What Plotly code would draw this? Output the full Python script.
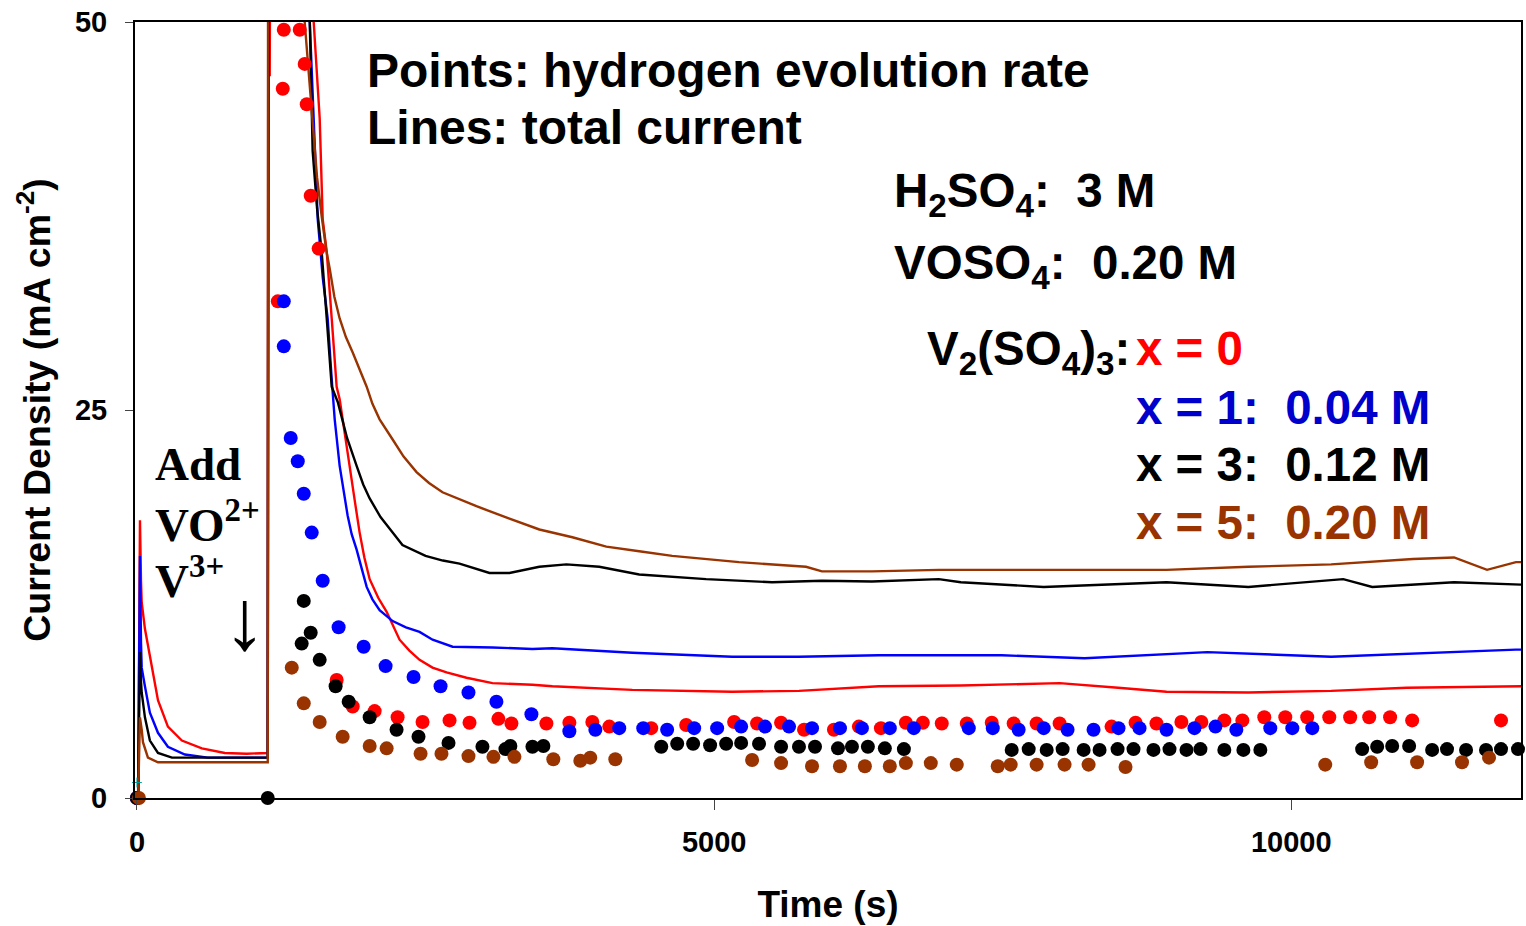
import plotly.graph_objects as go

# ---------------- data ----------------
# Lines: total current density (mA cm^-2) vs time (s)
red_line_t = [10, 26, 35, 41, 69, 127, 182, 268, 389, 562, 761, 950, 1133, 1138, 1150, 1156, 1531,
              1583, 1609, 1644, 1687, 1730, 1756, 1800, 1843, 1890, 1929, 1970, 2016, 2090, 2163,
              2275, 2360, 2448, 2560, 2682, 2855, 3080, 3426, 3599, 4291, 5156, 5735, 6427, 7137,
              7993, 8500, 8919, 9628, 10346, 11000, 11946, 11990]
red_line_v = [0, 17.9, 14.0, 12.6, 10.9, 8.5, 6.3, 4.6, 3.7, 3.2, 2.9, 2.85, 2.9, 60, 46.5, 60, 50,
              43.8, 37.3, 35.2, 30.9, 26.5, 25.7, 23.4, 21.4, 19.0, 17.1, 15.5, 14.1, 12.9, 12.0,
              10.2, 9.5, 8.9, 8.4, 8.1, 7.75, 7.4, 7.3, 7.2, 6.97, 6.85, 6.9, 7.2, 7.25,
              7.4, 7.1, 6.85, 6.8, 6.9, 7.1, 7.2, 7.2]

blue_line_t = [10, 26, 35, 41, 69, 112, 182, 268, 415, 614, 1133, 1140, 1497, 1566, 1610, 1652, 1687,
               1713, 1756, 1790, 1825, 1860, 1903, 1950, 1990, 2040, 2102, 2215, 2330, 2448, 2561,
               2734, 3080, 3426, 3599, 4291, 5156, 5735, 6427, 7491, 8209, 9273, 10346, 11946, 11990]
blue_line_v = [0, 15.6, 10.0, 8.4, 7.2, 5.5, 4.2, 3.3, 2.8, 2.6, 2.6, 60, 50, 37.3, 33.5, 30.9, 27.0,
               24.4, 21.4, 19.7, 18.2, 17.0, 16.0, 14.7, 13.6, 12.8, 12.1, 11.4, 11.0, 10.7, 10.2,
               9.75, 9.7, 9.6, 9.65, 9.36, 9.1, 9.1, 9.2, 9.2, 9.0, 9.4, 9.1, 9.56, 9.56]

black_line_t = [10, 26, 35, 41, 69, 112, 182, 303, 1133, 1140, 1497, 1522, 1560, 1600, 1644, 1687,
                1740, 1820, 1903, 1960, 2016, 2110, 2215, 2300, 2500, 2650, 2794, 3054, 3227, 3486,
                3720, 4005, 4351, 4931, 5502, 5934, 6367, 6946, 7137, 7855, 8919, 9628, 10450,
                10701, 11410, 11946, 11990]
black_line_v = [0, 9.4, 7.5, 6.8, 5.2, 3.7, 2.9, 2.6, 2.6, 60, 50, 41.7, 38.0, 35.2, 30.9, 26.5,
                25.5, 23.2, 21.4, 20.2, 19.3, 18.1, 17.1, 16.3, 15.6, 15.3, 15.1, 14.5, 14.5, 14.9,
                15.05, 14.9, 14.4, 14.1, 13.9, 14.0, 13.95, 14.1, 13.9, 13.6, 13.9, 13.6, 14.1,
                13.6, 13.9, 13.75, 13.75]

brown_line_t = [10, 26, 41, 52, 95, 182, 1133, 1136, 1453, 1560, 1600, 1640, 1670, 1710, 1756, 1810,
                1869, 1930, 1990, 2040, 2102, 2215, 2310, 2422, 2530, 2647, 2941, 3227, 3486, 3772,
                4066, 4351, 4637, 5216, 5796, 5934, 6367, 6946, 7855, 8919, 9628, 10346, 11055,
                11410, 11696, 11946, 11990]
brown_line_v = [0, 5.2, 4.4, 3.6, 2.6, 2.3, 2.3, 60, 50, 40.0, 37.5, 35.3, 34.1, 32.3, 30.9, 29.7,
                28.7, 27.6, 26.5, 25.4, 24.4, 23.1, 22.0, 21.0, 20.3, 19.7, 18.8, 18.0, 17.3, 16.8,
                16.2, 15.9, 15.6, 15.2, 14.9, 14.6, 14.6, 14.7, 14.7, 14.7, 14.9, 15.05, 15.4,
                15.5, 14.7, 15.2, 15.2]

# Points: hydrogen evolution rate (mA cm^-2) vs time (s)
red_pts_t = [0, 1272, 1410, 1453, 1263, 1471, 1505, 1574, 1220, 1730, 1869, 2059, 2258, 2474, 2708,
             2881, 3131, 3244, 3547, 3746, 3945, 4092, 4455, 4758, 5173, 5372, 5580, 5779, 6038,
             6254, 6445, 6661, 6808, 6972, 7189, 7405, 7595, 7794, 7993, 8443, 8651, 8832, 9048,
             9221, 9420, 9576, 9766, 9948, 10138, 10329, 10510, 10675, 10856, 11047, 11817]
red_pts_v = [0, 49.5, 49.5, 47.3, 45.7, 44.7, 38.8, 35.4, 32.0, 7.6, 5.9, 5.6, 5.2, 4.9, 5.0,
             4.85, 5.1, 4.8, 4.8, 4.85, 4.9, 4.6, 4.5, 4.7, 4.9, 4.8, 4.85, 4.4, 4.4,
             4.6, 4.5, 4.85, 4.85, 4.8, 4.8, 4.85, 4.8, 4.8, 4.8, 4.6, 4.85, 4.8, 4.9,
             4.9, 5.0, 5.0, 5.2, 5.2, 5.2, 5.2, 5.2, 5.2, 5.2, 5.0, 5.0]

blue_pts_t = [0, 1272, 1272, 1332, 1393, 1445, 1514, 1609, 1747, 1964, 2154, 2396, 2630, 2872, 3114,
              3417, 3746, 3971, 4178, 4386, 4593, 4827, 5026, 5234, 5441, 5649, 5848, 6090, 6280,
              6522, 6730, 7206, 7414, 7638, 7855, 8062, 8287, 8503, 8685, 8919, 9161, 9343, 9524,
              9818, 10009, 10182]
blue_pts_v = [0, 32.0, 29.1, 23.2, 21.7, 19.6, 17.1, 14.0, 11.0, 9.75, 8.5, 7.8, 7.2, 6.8, 6.2,
              5.4, 4.3, 4.4, 4.5, 4.5, 4.4, 4.5, 4.5, 4.6, 4.6, 4.6, 4.5, 4.5, 4.5,
              4.5, 4.5, 4.5, 4.5, 4.4, 4.5, 4.4, 4.4, 4.5, 4.5, 4.4, 4.5, 4.6, 4.4,
              4.5, 4.5, 4.5]

black_pts_t = [0, 1133, 1445, 1505, 1427, 1583, 1721, 1834, 2016, 2249, 2439, 2699, 2993, 3192, 3235,
               3426, 3521, 4542, 4680, 4818, 4965, 5104, 5234, 5389, 5580, 5735, 5874, 6073, 6194,
               6332, 6479, 6644, 7578, 7725, 7881, 8019, 8201, 8339, 8495, 8633, 8806, 8945, 9092,
               9213, 9420, 9585, 9732, 10614, 10744, 10874, 11021, 11220, 11349, 11514, 11687,
               11817, 11964]
black_pts_v = [0, 0, 12.7, 10.65, 9.95, 8.9, 7.2, 6.2, 5.2, 4.4, 3.95, 3.55, 3.3, 3.15, 3.35,
               3.3, 3.35, 3.3, 3.5, 3.5, 3.4, 3.5, 3.55, 3.5, 3.3, 3.3, 3.3, 3.2, 3.3,
               3.3, 3.2, 3.15, 3.1, 3.15, 3.1, 3.15, 3.1, 3.1, 3.15, 3.15, 3.1, 3.15, 3.1,
               3.15, 3.1, 3.1, 3.1, 3.15, 3.3, 3.35, 3.35, 3.1, 3.15, 3.1, 3.1,
               3.15, 3.15]

brown_pts_t = [17, 1341, 1445, 1583, 1782, 2016, 2163, 2457, 2638, 2872, 3088, 3270, 3607, 3841,
               3927, 4144, 5329, 5580, 5848, 6090, 6306, 6522, 6661, 6877, 7102, 7457, 7569, 7794,
               8036, 8244, 8564, 10294, 10692, 11090, 11479, 11713]
brown_pts_v = [0, 8.4, 6.1, 4.9, 3.95, 3.35, 3.2, 2.85, 2.85, 2.7, 2.65, 2.65, 2.5, 2.4,
               2.6, 2.5, 2.45, 2.25, 2.05, 2.05, 2.05, 2.05, 2.25, 2.25, 2.15, 2.05, 2.15, 2.15,
               2.15, 2.15, 2.0, 2.15, 2.3, 2.3, 2.3, 2.6]

# small stray marker near origin
cyan_t = [0]
cyan_v = [1.0]

x_tick_vals = [0, 5000, 10000]
y_tick_vals = [0, 25, 50]

# ---------------- styling ----------------
RED = "#FF0000"
BLUE = "#0000FF"
BLACK = "#000000"
BROWN = "#993300"

W, H = 1526, 926
L, R, T, B = 135, 1523, 22, 798


def px(x):
    return (x - L) / (R - L)


def py(y):
    return (B - y) / (B - T)


fig = go.Figure()

for t, v, c in [(red_line_t, red_line_v, RED), (blue_line_t, blue_line_v, BLUE),
                (black_line_t, black_line_v, BLACK), (brown_line_t, brown_line_v, BROWN)]:
    fig.add_trace(go.Scatter(x=t, y=v, mode="lines", line=dict(color=c, width=2.4),
                             showlegend=False, hoverinfo="skip"))

for t, v, c in [(red_pts_t, red_pts_v, RED), (blue_pts_t, blue_pts_v, BLUE),
                (black_pts_t, black_pts_v, BLACK), (brown_pts_t, brown_pts_v, BROWN)]:
    fig.add_trace(go.Scatter(x=t, y=v, mode="markers",
                             marker=dict(color=c, size=14, line=dict(width=0)),
                             cliponaxis=False, showlegend=False, hoverinfo="skip"))

fig.add_trace(go.Scatter(x=cyan_t, y=cyan_v, mode="markers",
                         marker=dict(color="#00A0A0", size=7, symbol="cross-thin",
                                     line=dict(color="#00A0A0", width=1)),
                         cliponaxis=False, showlegend=False, hoverinfo="skip"))

SANS = "Liberation Sans, Arial, sans-serif"
SERIF = "Liberation Serif, Times New Roman, serif"

ann = []


def text(x, y, s, color="black", size=47.5, font=SANS, xanchor="left"):
    ann.append(dict(x=px(x), y=py(y), xref="paper", yref="paper", text=s, showarrow=False,
                    xanchor=xanchor, yanchor="middle",
                    font=dict(family=font, size=size, color=color, weight="bold")))


text(365, 70, "Points: hydrogen evolution rate", size=48)
text(365, 128, "Lines: total current", size=48)
text(893, 194, "H<sub>2</sub>SO<sub>4</sub>:  3 M")
text(893, 266, "VOSO<sub>4</sub>:  0.20 M")
text(1133, 352, "V<sub>2</sub>(SO<sub>4</sub>)<sub>3</sub>:", xanchor="right")
text(1135, 349, "x = 0", color=RED)
text(1135, 407, "x = 1:  0.04 M", color="#0000CC")
text(1135, 464, "x = 3:  0.12 M", color=BLACK)
text(1135, 522, "x = 5:  0.20 M", color=BROWN)

text(153, 464, "Add", font=SERIF, size=47)
text(153, 521, "VO<sup>2+</sup>", font=SERIF, size=47)
text(153, 577, "V<sup>3+</sup>", font=SERIF, size=47)
text(245, 620, "↓", font=SERIF, size=86, xanchor="center")

fig.update_layout(
    width=W, height=H,
    margin=dict(l=L, r=W - R, t=T, b=H - B),
    paper_bgcolor="white", plot_bgcolor="white",
    annotations=ann,
    xaxis=dict(range=[-17, 11990], tickvals=x_tick_vals, ticktext=[str(v) for v in x_tick_vals],
               showgrid=False, zeroline=False, showline=True, linecolor="black", linewidth=2,
               mirror=True, ticks="outside", ticklen=10, tickwidth=1, tickcolor="#444",
               ticklabelstandoff=7,
               tickfont=dict(family=SANS, size=29, color="black", weight="bold"),
               title=dict(text="Time (s)", font=dict(family=SANS, size=37, color="black", weight="bold"),
                          standoff=34)),
    yaxis=dict(range=[0, 50], tickvals=y_tick_vals, ticktext=[str(v) for v in y_tick_vals],
               showgrid=False, zeroline=False, showline=True, linecolor="black", linewidth=2,
               mirror=True, ticks="outside", ticklen=8, tickwidth=1, tickcolor="#444",
               ticklabelstandoff=12,
               tickfont=dict(family=SANS, size=29, color="black", weight="bold"),
               title=dict(text="Current Density (mA cm<sup>-2</sup>)",
                          font=dict(family=SANS, size=37.5, color="black", weight="bold"),
                          standoff=13)),
)

fig.write_html("out.html")
